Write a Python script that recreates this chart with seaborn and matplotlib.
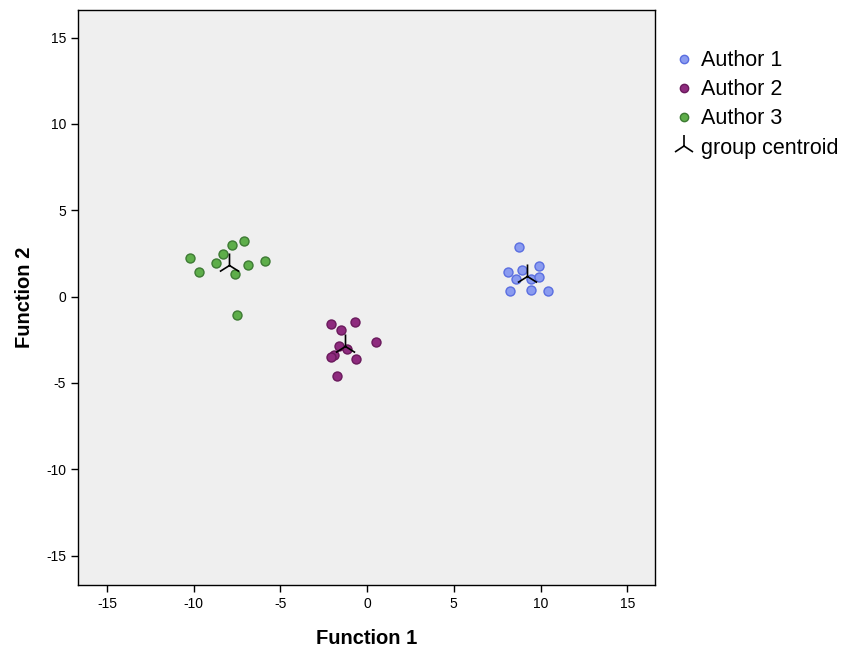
import pandas as pd
import seaborn as sns
import matplotlib
matplotlib.use("Agg")
import matplotlib.pyplot as plt
from matplotlib.lines import Line2D

# discriminant scores
author1_f1 = [8.75, 8.14, 8.96, 9.94, 8.60, 9.48, 9.93, 8.25, 9.45, 10.44]
author1_f2 = [2.90, 1.45, 1.54, 1.80, 1.02, 1.02, 1.16, 0.35, 0.37, 0.31]
author2_f1 = [-2.06, -1.48, -0.69, 0.50, -1.63, -1.17, -1.90, -2.09, -0.63, -1.71]
author2_f2 = [-1.58, -1.93, -1.49, -2.61, -2.84, -3.03, -3.38, -3.51, -3.61, -4.57]
author3_f1 = [-10.21, -9.68, -8.71, -8.33, -7.81, -7.08, -6.85, -5.87, -7.62, -7.52]
author3_f2 = [2.22, 1.45, 1.95, 2.45, 2.99, 3.20, 1.81, 2.08, 1.31, -1.08]

groups = ["Author 1", "Author 2", "Author 3"]
ticks = [-15, -10, -5, 0, 5, 10, 15]
tick_labels = ["-15", "-10", "-5", "0", "5", "10", "15"]

fill = {"Author 1": "#8a9bf0", "Author 2": "#8e2b7e", "Author 3": "#5eae4a"}
edge = {"Author 1": "#5a6ee0", "Author 2": "#6a1a5c", "Author 3": "#3d7a33"}

df = pd.concat([
    pd.DataFrame({"f1": author1_f1, "f2": author1_f2, "group": groups[0]}),
    pd.DataFrame({"f1": author2_f1, "f2": author2_f2, "group": groups[1]}),
    pd.DataFrame({"f1": author3_f1, "f2": author3_f2, "group": groups[2]}),
], ignore_index=True)
centroids = df.groupby("group")[["f1", "f2"]].mean().reset_index()

sns.set_style("white")
plt.rcParams["font.family"] = ["Liberation Sans", "DejaVu Sans"]
plt.rcParams["text.color"] = "black"
plt.rcParams["axes.labelcolor"] = "black"

fig = plt.figure(figsize=(8.45, 6.49), dpi=100)
ax = fig.add_axes([0.0923, 0.0986, 0.6828, 0.886])
ax.set_facecolor("#efefef")

for g in groups:
    sub = df[df.group == g]
    sns.scatterplot(data=sub, x="f1", y="f2", ax=ax, s=42, color=fill[g],
                    edgecolor=edge[g], linewidth=1.0, zorder=3, legend=False)

sns.scatterplot(data=centroids, x="f1", y="f2", ax=ax, marker="2", s=300,
                color="black", linewidth=1.2, zorder=4, legend=False)

ax.set_xlim(-16.67, 16.6)
ax.set_ylim(-16.7, 16.6)
ax.set_xticks(ticks, tick_labels)
ax.set_yticks(ticks, tick_labels)
ax.tick_params(direction="out", length=5, width=1, color="black",
               labelcolor="black", labelsize=10, bottom=True, left=True)
for sp in ax.spines.values():
    sp.set_color("black")
    sp.set_linewidth(1)
ax.set_xlabel("Function 1", fontsize=14.5, fontweight="bold", labelpad=13)
ax.set_ylabel("Function 2", fontsize=14.5, fontweight="bold", labelpad=9)

handles = [Line2D([], [], ls="", marker="o", markersize=6, markerfacecolor=fill[g],
                  markeredgecolor=edge[g], markeredgewidth=1) for g in groups]
handles.append(Line2D([], [], ls="", marker="2", markersize=16, color="black",
                      markeredgewidth=1.2))
ax.legend(handles, groups + ["group centroid"], loc="upper left",
          bbox_to_anchor=(0.994, 0.964), frameon=False, fontsize=15.5,
          handletextpad=0.2, labelspacing=0.38, handlelength=1.2)

fig.savefig("out.png", dpi=100)
